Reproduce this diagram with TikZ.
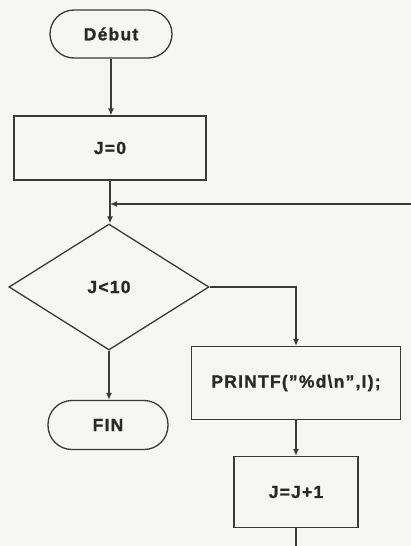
\documentclass[tikz,border=0pt]{standalone}
\usepackage{fontspec}
\setmainfont{Liberation Sans}[LetterSpace=7,BoldFeatures={FakeBold=1.2}]
\usetikzlibrary{shapes.geometric,arrows.meta}

\definecolor{trait}{RGB}{58,58,60}
\definecolor{papier}{RGB}{246,246,244}

\tikzset{
  boite/.style={draw=trait,line width=1.3pt,rectangle,inner sep=0pt,font=\fontsize{17.5}{20}\selectfont\bfseries,text=trait!70!black},
  terminal/.style={boite,rounded corners=24pt},
  losange/.style={boite,diamond,minimum width=200pt,minimum height=126pt},
  fleche/.style={draw=trait,line width=1.3pt,-{Latex[length=7pt,width=6pt]}},
  lien/.style={draw=trait,line width=1.3pt}
}

\begin{document}
\begin{tikzpicture}[x=1pt,y=1pt,yscale=-1]
%Background
\path[fill=papier] (0,0) rectangle (411,546);
\useasboundingbox (0,0) rectangle (411,546);

%Shape: Terminal
\node[terminal,minimum width=122pt,minimum height=48pt] (debut) at (111,34) {Début};
%Shape: Rectangle
\node[boite,minimum width=192pt,minimum height=64pt] (jzero) at (110,148) {J=0};
%Shape: Diamond
\node[losange] (test) at (109,287) {J<10};
%Shape: Terminal
\node[terminal,minimum width=120pt,minimum height=49pt] (fin) at (108,425) {FIN};
%Shape: Rectangle
\node[boite,minimum width=209pt,minimum height=73pt] (printf) at (296,383) {PRINTF(\symbol{34}\%d\textbackslash n\symbol{34},I);};
%Shape: Rectangle
\node[boite,minimum width=124pt,minimum height=71pt] (incr) at (296,492) {J=J+1};

%loop ends
\coordinate (retour) at (411,204);
\coordinate (bas) at (296,546);

%Straight Lines
\draw[fleche] (debut.south) -- (debut.south |- jzero.north);
\draw[fleche] (jzero.south) -- (jzero.south |- test.north);
\draw[fleche] (retour) -- (jzero.south |- retour);
\draw[fleche] (test.east) -| (printf.north);
\draw[fleche] (test.south) -- (test.south |- fin.north);
\draw[fleche] (printf.south) -- (incr.north);
\draw[lien] (incr.south) -- (bas);

\end{tikzpicture}
\end{document}
